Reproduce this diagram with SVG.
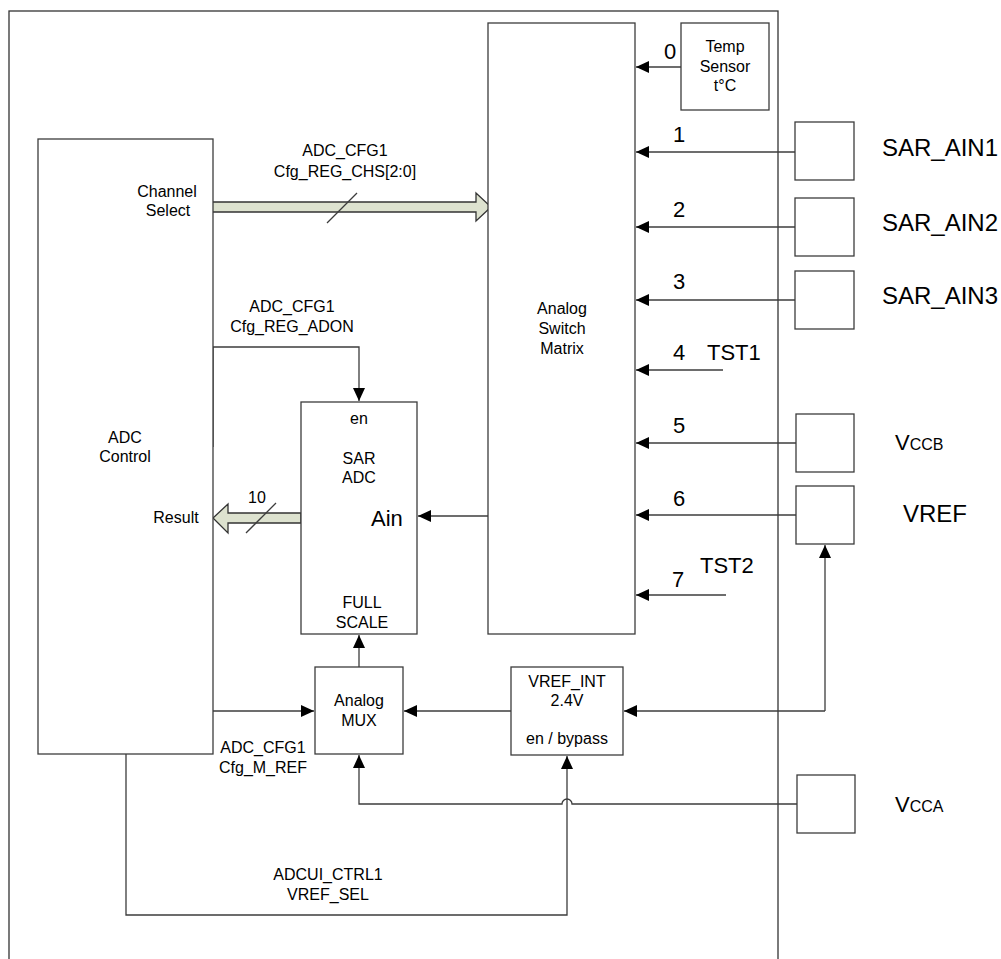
<svg xmlns="http://www.w3.org/2000/svg" width="1001" height="959" viewBox="0 0 1001 959">
<defs>
<marker id="ah" markerWidth="14" markerHeight="12" refX="13" refY="6" orient="auto" markerUnits="userSpaceOnUse">
<path d="M0,0 L13,6 L0,12 z" fill="#000"/>
</marker>
<style>
.box{fill:#fff;stroke:#3c3c3c;stroke-width:1.3}
.ln{fill:none;stroke:#3c3c3c;stroke-width:1.3}
.wide{fill:#dde2cf;stroke:#333;stroke-width:1.3}
text{font-family:"Liberation Sans",Arial,sans-serif;fill:#000}
.t16{font-size:16px}
.t22{font-size:22px}
.t24{font-size:24px}
.m{text-anchor:middle}
</style>
</defs>
<rect width="1001" height="959" fill="#fff"/>
<rect id="frame" x="9" y="11" width="769" height="970" fill="none" stroke="#333" stroke-width="1.3"/>

<g id="connectors">
<!-- channel select wide arrow -->
<path class="wide" d="M211,202 H476 V193 L491,207 L476,221 V212 H211 Z"/>
<line class="ln" x1="327" y1="223" x2="357" y2="193"/>
<!-- result wide arrow -->
<path class="wide" d="M301,513 H228 V504 L213,518 L228,533 V523 H301 Z"/>
<line class="ln" x1="246" y1="533" x2="276" y2="503"/>
<!-- ADON -->
<path class="ln" d="M213,447 V347 H359 V401" marker-end="url(#ah)"/>
<!-- switch to SAR Ain -->
<path class="ln" d="M488,516 H418" marker-end="url(#ah)"/>
<!-- inputs -->
<path class="ln" d="M681,67 H636" marker-end="url(#ah)"/>
<path class="ln" d="M795,152 H636" marker-end="url(#ah)"/>
<path class="ln" d="M795,227 H636" marker-end="url(#ah)"/>
<path class="ln" d="M795,300 H636" marker-end="url(#ah)"/>
<path class="ln" d="M723,370 H636" marker-end="url(#ah)"/>
<path class="ln" d="M796,443 H636" marker-end="url(#ah)"/>
<path class="ln" d="M796,515 H636" marker-end="url(#ah)"/>
<path class="ln" d="M726,595 H636" marker-end="url(#ah)"/>
<!-- VREF pin -> VREF_INT -->
<path class="ln" d="M825,711 V545" marker-end="url(#ah)"/>
<path class="ln" d="M825,711 H624" marker-end="url(#ah)"/>
<!-- VREF_INT -> MUX -->
<path class="ln" d="M511,711 H404" marker-end="url(#ah)"/>
<!-- ADC Control -> MUX -->
<path class="ln" d="M213,711 H314" marker-end="url(#ah)"/>
<!-- MUX -> SAR full scale -->
<path class="ln" d="M359,667 V635" marker-end="url(#ah)"/>
<!-- VCCA -> MUX with hop -->
<path class="ln" d="M797,804 H572 A5,5 0 0 0 562,804 H359 V755" marker-end="url(#ah)"/>
<!-- VREF_SEL -->
<path class="ln" d="M126,754 V915 H567 V756" marker-end="url(#ah)"/>
</g>

<g id="adc-control">
<rect class="box" x="38" y="139" width="175" height="615"/>
<text class="t16 m" x="125" y="443">ADC</text>
<text class="t16 m" x="125" y="462">Control</text>
<text class="t16 m" x="167" y="197">Channel</text>
<text class="t16 m" x="168" y="216">Select</text>
<text class="t16 m" x="176" y="523">Result</text>
</g>

<g id="switch-matrix">
<rect class="box" x="488" y="23" width="147" height="611"/>
<text class="t16 m" x="562" y="314">Analog</text>
<text class="t16 m" x="562" y="334">Switch</text>
<text class="t16 m" x="562" y="354">Matrix</text>
</g>

<g id="temp-sensor">
<rect class="box" x="681" y="23" width="88" height="87"/>
<text class="t16 m" x="725" y="52">Temp</text>
<text class="t16 m" x="725" y="72">Sensor</text>
<text class="t16 m" x="725" y="91">t°C</text>
</g>

<g id="sar-adc">
<rect class="box" x="301" y="402" width="116" height="232"/>
<text class="t16 m" x="359" y="424">en</text>
<text class="t16 m" x="359" y="464">SAR</text>
<text class="t16 m" x="359" y="483">ADC</text>
<text class="t22" x="371" y="526">Ain</text>
<text class="t16 m" x="362" y="608">FULL</text>
<text class="t16 m" x="362" y="628">SCALE</text>
</g>

<g id="analog-mux">
<rect class="box" x="315" y="667" width="88" height="87"/>
<text class="t16 m" x="359" y="706">Analog</text>
<text class="t16 m" x="359" y="726">MUX</text>
</g>

<g id="vref-int">
<rect class="box" x="511" y="667" width="112" height="88"/>
<text class="t16 m" x="567" y="687">VREF_INT</text>
<text class="t16 m" x="567" y="706">2.4V</text>
<text class="t16 m" x="567" y="744">en / bypass</text>
</g>

<g id="pins">
<rect class="box" x="795" y="122" width="59" height="58"/>
<rect class="box" x="795" y="198" width="59" height="58"/>
<rect class="box" x="795" y="271" width="59" height="58"/>
<rect class="box" x="796" y="414" width="58" height="58"/>
<rect class="box" x="796" y="486" width="58" height="58"/>
<rect class="box" x="797" y="775" width="58" height="58"/>
<text class="t24" x="882" y="156">SAR_AIN1</text>
<text class="t24" x="882" y="231">SAR_AIN2</text>
<text class="t24" x="882" y="304">SAR_AIN3</text>
<text x="895" y="450"><tspan class="t22">V</tspan><tspan class="t16">CCB</tspan></text>
<text class="t24" x="903" y="522">VREF</text>
<text x="895" y="812"><tspan class="t22">V</tspan><tspan class="t16">CCA</tspan></text>
</g>

<g id="labels">
<text class="t16 m" x="345" y="156">ADC_CFG1</text>
<text class="t16 m" x="345" y="177">Cfg_REG_CHS[2:0]</text>
<text class="t16 m" x="292" y="312">ADC_CFG1</text>
<text class="t16 m" x="292" y="332">Cfg_REG_ADON</text>
<text class="t16 m" x="257" y="503">10</text>
<text class="t16 m" x="263" y="753">ADC_CFG1</text>
<text class="t16 m" x="263" y="773">Cfg_M_REF</text>
<text class="t16 m" x="328" y="880">ADCUI_CTRL1</text>
<text class="t16 m" x="328" y="900">VREF_SEL</text>
<text class="t22 m" x="670" y="59">0</text>
<text class="t22 m" x="679" y="142">1</text>
<text class="t22 m" x="679" y="217">2</text>
<text class="t22 m" x="679" y="289">3</text>
<text class="t22 m" x="679" y="360">4</text>
<text class="t22 m" x="679" y="433">5</text>
<text class="t22 m" x="679" y="506">6</text>
<text class="t22 m" x="678" y="587">7</text>
<text class="t22" x="707" y="360">TST1</text>
<text class="t22" x="700" y="573">TST2</text>
</g>
</svg>
